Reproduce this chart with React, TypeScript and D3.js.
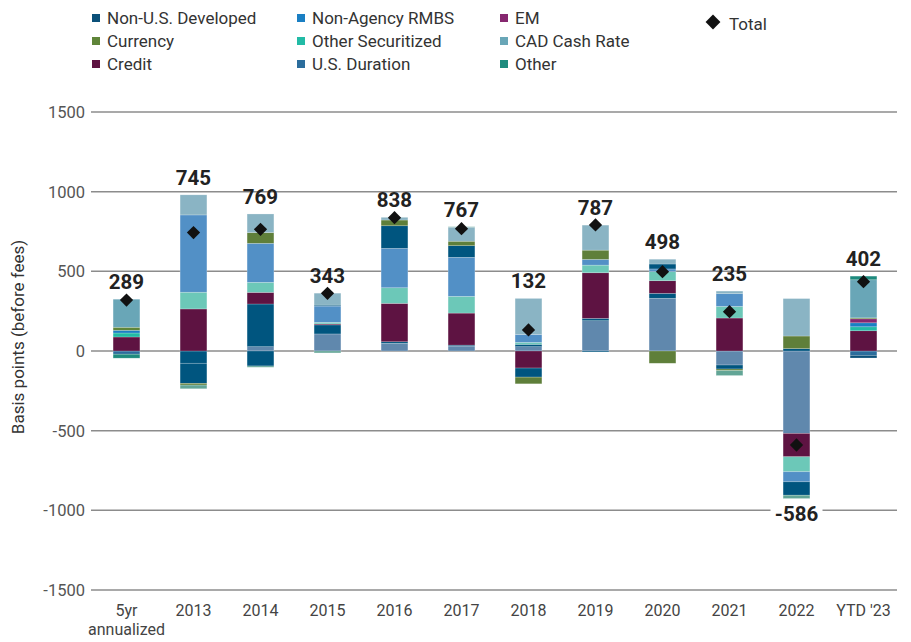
import React, { useEffect, useRef } from "react";
import * as d3 from "d3";

const categories = ["5yr\nannualized", "2013", "2014", "2015", "2016", "2017", "2018", "2019", "2020", "2021", "2022", "YTD '23"];

// stacking order, bottom to top
const seriesNames = ["U.S. Duration", "Non-U.S. Developed", "Credit", "Other Securitized", "Non-Agency RMBS", "EM", "Currency", "CAD Cash Rate", "Other"];

const usDuration = [-20, 0, 27, 107, 48, 31, 27, 190, 331, -88, -517, -27];
const nonUsDeveloped = [0, -77, 268, 57, 10, 6, 15, 15, 31, -25, 15, -17];
const credit = [88, 264, 73, 6, 241, 201, -107, 286, 79, 207, -147, 127];
const otherSecuritized = [25, 105, 63, 10, 98, 105, 12, 48, 57, 73, -94, 25];
const nonAgencyRmbs = [17, 485, 245, 102, 247, 245, 50, 36, 17, 80, -63, 25];
const em = [0, -126, -94, 6, 142, 73, -57, -6, 31, 0, -84, 25];
const currency = [19, -11, 67, 0, 36, 28, -42, 58, -77, -10, 79, 6];
const cadCashRate = [176, 126, 117, 75, 17, 88, 226, 157, 30, 16, 235, 239];
const other = [-25, -23, -8, -12, 0, 3, 0, 0, 0, -31, -21, 23];

const totalLabels = [289, 745, 769, 343, 838, 767, 132, 787, 498, 235, -586, 402];
const totalMarkers = [320, 743, 764, 362, 837, 768, 132, 791, 498, 247, -590, 435];

const yTicks = [1500, 1000, 500, 0, -500, -1000, -1500];

const legendRows = [
    ["Non-U.S. Developed", "Non-Agency RMBS", "EM"],
    ["Currency", "Other Securitized", "CAD Cash Rate"],
    ["Credit", "U.S. Duration", "Other"],
];

const brightColors: Record<string, string> = {
    "U.S. Duration": "#2b6d9c",
    "Non-U.S. Developed": "#0b5079",
    "Credit": "#5e1342",
    "Other Securitized": "#22bba6",
    "Non-Agency RMBS": "#1a7fc3",
    "EM": "#86276f",
    "Currency": "#5f8539",
    "CAD Cash Rate": "#69a6b7",
    "Other": "#1f8b7e",
};

const mutedColors: Record<string, string> = {
    "U.S. Duration": "#6088ad",
    "Non-U.S. Developed": "#00557f",
    "Credit": "#5e1342",
    "Other Securitized": "#6cc8b8",
    "Non-Agency RMBS": "#5290c6",
    "EM": "#00557f",
    "Currency": "#5f7f3a",
    "CAD Cash Rate": "#8ab4c4",
    "Other": "#62a596",
};

const brightCategories = ["5yr\nannualized", "YTD '23"];

const values: Record<string, number[]> = {
    "U.S. Duration": usDuration,
    "Non-U.S. Developed": nonUsDeveloped,
    "Credit": credit,
    "Other Securitized": otherSecuritized,
    "Non-Agency RMBS": nonAgencyRmbs,
    "EM": em,
    "Currency": currency,
    "CAD Cash Rate": cadCashRate,
    "Other": other,
};

const font = "Roboto, 'Liberation Sans', sans-serif";

const Chart = () => {
    const svgRef = useRef<SVGSVGElement>(null);

    useEffect(() => {
        const width = 911;
        const height = 642;

        const table = categories.map((c, i) => {
            const row: any = { category: c };
            seriesNames.forEach((s) => (row[s] = values[s][i]));
            return row;
        });

        const stacked = d3
            .stack<any>()
            .keys(seriesNames)
            .offset(d3.stackOffsetDiverging)(table);

        const x = d3.scaleBand().domain(categories).range([93, 897]).paddingInner(0.6).paddingOuter(0.3);
        const y = d3.scaleLinear().domain([-1500, 1500]).range([590, 112]);

        const svg = d3.select(svgRef.current).attr("width", width).attr("height", height);
        svg.selectAll("*").remove();

        // gridlines
        svg.append("g")
            .selectAll("line")
            .data(yTicks)
            .join("line")
            .attr("x1", 91)
            .attr("x2", 897)
            .attr("y1", (d) => y(d))
            .attr("y2", (d) => y(d))
            .attr("stroke", "#8c8c8c")
            .attr("stroke-width", 1.5);

        // y tick labels
        svg.append("g")
            .attr("font-family", font)
            .attr("font-size", 16.5)
            .attr("fill", "#555")
            .attr("text-anchor", "end")
            .selectAll("text")
            .data(yTicks)
            .join("text")
            .attr("x", 85)
            .attr("y", (d) => y(d))
            .attr("dy", "0.36em")
            .text((d) => d);

        // y axis title
        svg.append("text")
            .attr("transform", `translate(24,${337}) rotate(-90)`)
            .attr("text-anchor", "middle")
            .attr("font-family", font)
            .attr("font-size", 17)
            .attr("fill", "#333")
            .text("Basis points (before fees)");

        // x labels
        const xl = svg.append("g")
            .attr("font-family", font)
            .attr("font-size", 16)
            .attr("fill", "#444")
            .attr("text-anchor", "middle")
            .selectAll("text")
            .data(categories)
            .join("text")
            .attr("transform", (d) => `translate(${x(d)! + x.bandwidth() / 2},616)`);
        xl.selectAll("tspan")
            .data((d) => d.split("\n"))
            .join("tspan")
            .attr("x", 0)
            .attr("y", (_, i) => i * 18.5)
            .text((d) => d);

        // stacked bars
        svg.append("g")
            .selectAll("g")
            .data(stacked)
            .join("g")
            .selectAll("rect")
            .data((s) => s.map((p) => ({ key: s.key, p })))
            .join("rect")
            .attr("x", (d) => x(d.p.data.category)!)
            .attr("width", x.bandwidth())
            .attr("y", (d) => y(Math.max(d.p[0], d.p[1])))
            .attr("height", (d) => Math.abs(y(d.p[0]) - y(d.p[1])))
            .attr("fill", (d) =>
                brightCategories.includes(d.p.data.category) ? brightColors[d.key] : mutedColors[d.key]
            )
            .attr("stroke", "rgba(255,255,255,0.35)")
            .attr("stroke-width", 0.6);

        // total labels
        const labels = svg.append("g")
            .attr("font-family", font)
            .attr("font-weight", 700)
            .attr("font-size", 20.5)
            .attr("fill", "#222")
            .attr("text-anchor", "middle");

        categories.forEach((c, i) => {
            const top = d3.max(stacked, (s) => s[i][1]) as number;
            const bottom = d3.min(stacked, (s) => s[i][0]) as number;
            const cx = x(c)! + x.bandwidth() / 2;
            const v = totalLabels[i];
            if (v >= 0) {
                labels.append("text").attr("x", cx).attr("y", y(top) - 10).text(v);
            } else {
                const ly = y(bottom) + 22;
                labels.append("rect")
                    .attr("x", cx - 26)
                    .attr("y", ly - 17)
                    .attr("width", 52)
                    .attr("height", 21)
                    .attr("fill", "white");
                labels.append("text").attr("x", cx).attr("y", ly).text(v);
            }
        });

        // total markers
        const diamond = d3.symbol().type(d3.symbolSquare).size(88);
        svg.append("g")
            .selectAll("path")
            .data(categories)
            .join("path")
            .attr("d", diamond)
            .attr("transform", (d, i) => `translate(${x(d)! + x.bandwidth() / 2},${y(totalMarkers[i])}) rotate(45)`)
            .attr("fill", "#111");

        // legend
        const legend = svg.append("g").attr("font-family", font).attr("font-size", 17).attr("fill", "#333");
        const colX = [92, 297, 500];
        const rowY = [18, 41, 64];
        legendRows.forEach((row, r) => {
            row.forEach((name, c) => {
                legend.append("rect")
                    .attr("x", colX[c])
                    .attr("y", rowY[r] - 4)
                    .attr("width", 8)
                    .attr("height", 8)
                    .attr("fill", brightColors[name]);
                legend.append("text")
                    .attr("x", colX[c] + 15)
                    .attr("y", rowY[r])
                    .attr("dy", "0.36em")
                    .text(name);
            });
        });
        legend.append("path")
            .attr("d", d3.symbol().type(d3.symbolSquare).size(110)())
            .attr("transform", "translate(713,22) rotate(45)")
            .attr("fill", "#111");
        legend.append("text").attr("x", 729).attr("y", 24).attr("dy", "0.36em").text("Total");
    }, []);

    return <svg ref={svgRef} style={{ position: "absolute", left: 0, top: 0 }} />;
};

export default function App() {
    return (
        <div>
            <Chart />
        </div>
    );
}
